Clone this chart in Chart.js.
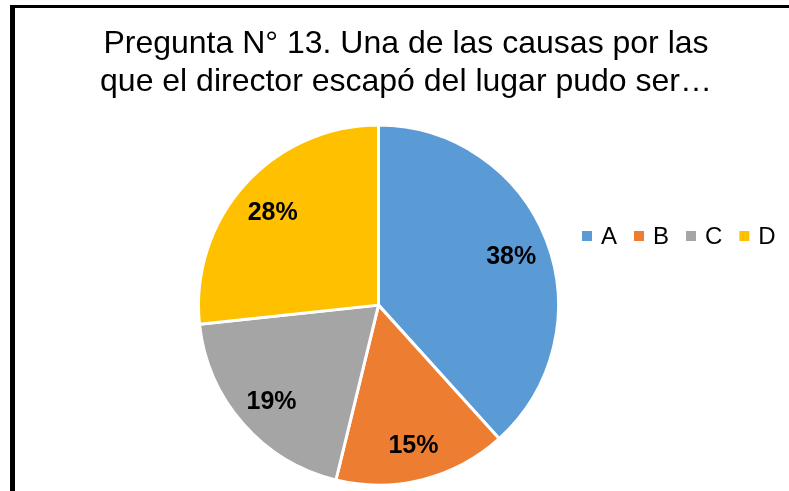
<!DOCTYPE html>
<html>
<head>
<meta charset="utf-8">
<script src="https://cdn.jsdelivr.net/npm/chart.js@4.4.1/dist/chart.umd.min.js"></script>
<style>
  html, body { margin: 0; padding: 0; background: #fff; overflow: hidden; }
  #wrap { position: relative; width: 789px; height: 491px; }
  #frame { position: absolute; left: 10px; top: 5px; width: 800px; height: 500px;
           border-top: 3px solid #000; border-left: 5px solid #000; box-sizing: border-box; pointer-events: none; }
  canvas { position: absolute; left: 0; top: 0; }
</style>
</head>
<body>
<div id="wrap">
  <canvas id="c" width="789" height="491"></canvas>
  <div id="frame"></div>
</div>
<script>
const titleLines = ['Pregunta N° 13. Una de las causas por las', 'que el director escapó del lugar pudo ser…'];
const categories = ['A', 'B', 'C', 'D'];
// slice sizes as measured from the wedge angles in the picture
const sliceValues = [38.3, 15.5, 19.5, 26.7];
// percentage labels as printed on the slices
const percentLabels = ['38%', '15%', '19%', '28%'];
const sliceColors = ['#5B9BD5', '#ED7D31', '#A5A5A5', '#FFC000'];

const FONT = '"Liberation Sans", Arial, Helvetica, sans-serif';

// Reserve room on the right so the pie sits left of the title centre
const rightSpacer = {
  id: 'rightSpacer',
  beforeInit(chart) {
    const box = {
      position: 'right', weight: 0, fullSize: false,
      options: {},
      left: 0, top: 0, right: 0, bottom: 0, width: 0, height: 0,
      isHorizontal() { return false; },
      update(maxWidth, maxHeight) { this.width = 55; this.height = maxHeight; },
      draw() {}
    };
    Chart.layouts.addBox(chart, box);
  }
};

// Horizontal legend drawn at the right
const inlineLegend = {
  id: 'inlineLegend',
  afterDraw(chart) {
    const ctx = chart.ctx;
    const ds = chart.data.datasets[0];
    ctx.save();
    ctx.font = '24px ' + FONT;
    ctx.textBaseline = 'middle';
    ctx.textAlign = 'left';
    let x = 582;
    const y = 236;
    chart.data.labels.forEach((lab, i) => {
      ctx.fillStyle = ds.backgroundColor[i];
      ctx.fillRect(x, y - 5, 10, 10);
      ctx.fillStyle = '#000';
      ctx.fillText(lab, x + 19, y + 1);
      x += 19 + ctx.measureText(lab).width + 17;
    });
    ctx.restore();
  }
};

// Percentage labels inside slices
const sliceLabels = {
  id: 'sliceLabels',
  afterDatasetsDraw(chart) {
    const ctx = chart.ctx;
    const meta = chart.getDatasetMeta(0);
    ctx.save();
    ctx.font = 'bold 25px ' + FONT;
    ctx.fillStyle = '#000';
    ctx.textAlign = 'center';
    ctx.textBaseline = 'middle';
    meta.data.forEach((arc, i) => {
      const p = arc.getProps(['x', 'y', 'startAngle', 'endAngle', 'outerRadius'], true);
      const mid = (p.startAngle + p.endAngle) / 2;
      const r = p.outerRadius * 0.79;
      ctx.fillText(percentLabels[i], p.x + Math.cos(mid) * r, p.y + Math.sin(mid) * r + 3);
    });
    ctx.restore();
  }
};

new Chart(document.getElementById('c'), {
  type: 'pie',
  data: {
    labels: categories,
    datasets: [{
      data: sliceValues,
      backgroundColor: sliceColors,
      borderColor: '#ffffff',
      borderWidth: 3
    }]
  },
  options: {
    responsive: false,
    animation: false,
    radius: 180,
    layout: { padding: { left: 23, right: 0, top: 0, bottom: 0 } },
    plugins: {
      legend: { display: false },
      tooltip: { enabled: false },
      title: {
        display: true,
        text: titleLines,
        color: '#000',
        font: { family: FONT, size: 32, weight: 'normal', lineHeight: 1.16 },
        padding: { top: 26, bottom: 19 }
      }
    }
  },
  plugins: [rightSpacer, sliceLabels, inlineLegend]
});
</script>
</body>
</html>
